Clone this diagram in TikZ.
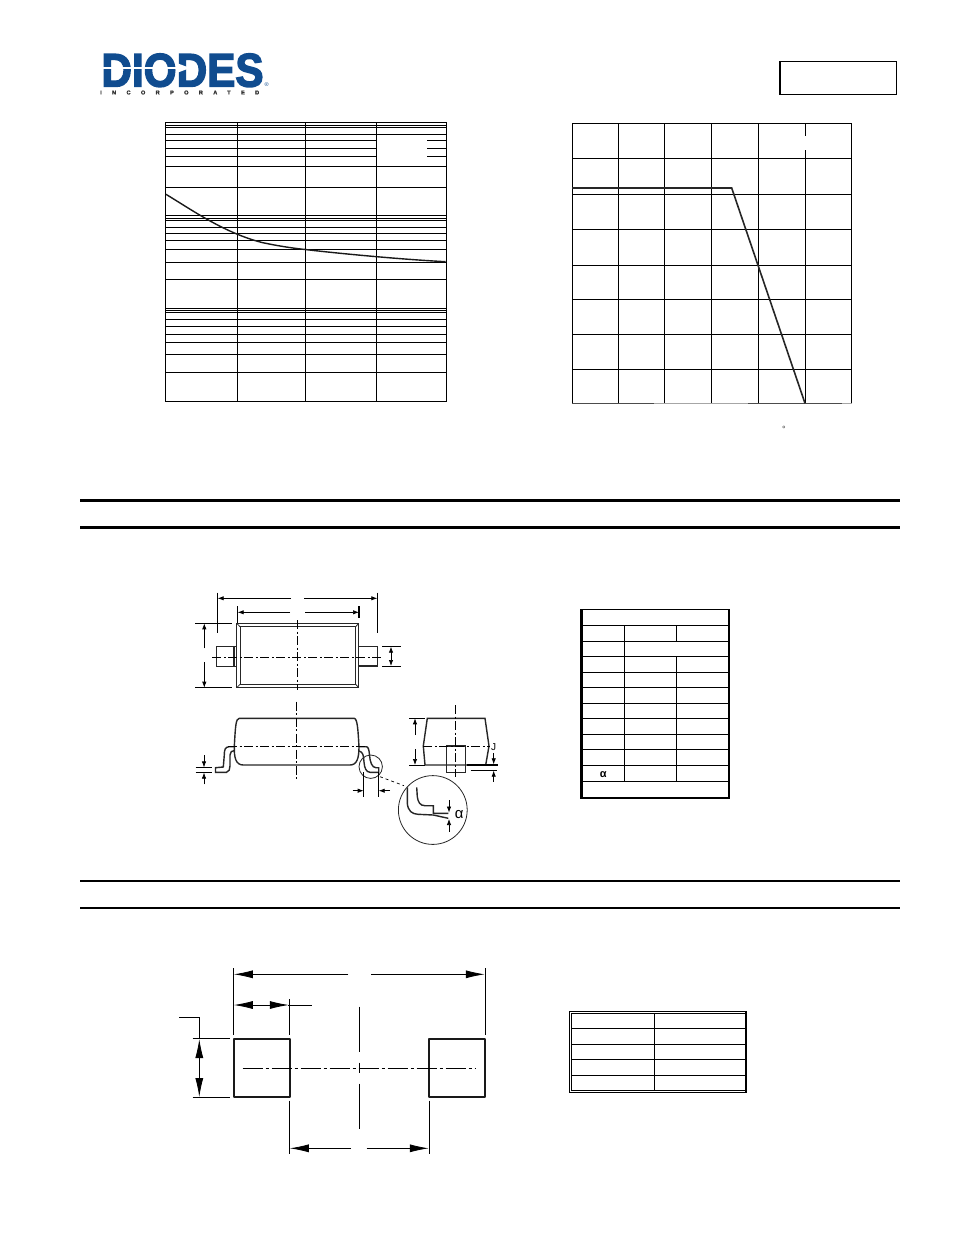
\documentclass[tikz,border=0pt]{standalone}
\usepackage{fontspec}
\setmainfont{Liberation Sans}
\newfontfamily\logofont{Liberation Sans}[BoldFeatures={FakeBold=3.2}]
\newfontfamily\logosmall{Liberation Sans}[LetterSpace=185, BoldFeatures={FakeBold=2}]
\usetikzlibrary{arrows.meta}
\definecolor{logoblue}{RGB}{16,76,143}
\tikzset{
  gridline/.style={line width=1pt, black},
  pkgline/.style={line width=1.4pt, black!85},
  thinpkg/.style={line width=0.8pt, black!85},
  dimline/.style={line width=0.7pt, black, arrows={-Latex[length=6pt,width=4.4pt]}},
  extline/.style={line width=0.7pt, black},
  centreline/.style={line width=0.7pt, black, dash pattern=on 9pt off 2.5pt on 2pt off 2.5pt},
  landdim/.style={line width=0.8pt, black, arrows={-Latex[length=19pt,width=8pt]}},
  landpad/.style={line width=1.8pt, black!90, line join=round},
}
\begin{document}
\begin{tikzpicture}[x=1pt, y=-1pt]
  \useasboundingbox (0, 0) rectangle (954, 1235);

  \node[logoblue, inner sep=0, xscale=0.9, font=\logofont\bfseries\fontsize{47}{47}\selectfont] (logotext) at (182.5, 70.3) {DIODES};
  \draw[white, line width=1.8pt] (100, 68) -- (178, 68);
  \fill[white] (178, 63.5) -- (190, 68) -- (178, 72.5) -- cycle;
  \node[anchor=west, inner sep=0, black!80, font=\logosmall\bfseries\fontsize{5.6}{6}\selectfont] (logosub) at (100, 92.5) {INCORPORATED};
  \node[logoblue, inner sep=0, font=\fontsize{5.5}{6}\selectfont] (logoreg) at (266.7, 84.5) {®};

  \draw[line width=1.7pt] (779.8, 61.5) rectangle (896.5, 94.5);

  % curve plot
  \draw[gridline] (165.5, 122.7) rectangle (446, 401.3);
  \foreach \x in {237.3, 305.3, 376.3}
    \draw[gridline] (\x, 122.7) -- (\x, 401.3);
  \foreach \y in {125.7, 127.7, 134.3, 166.3, 187, 215.3, 218, 220.3, 227, 233.3, 240.3, 249.3, 262.3, 279.3, 308.3, 310.3, 312.3, 319.3, 326.7, 334.3, 342.3, 354.3, 372.3}
    \draw[gridline] (165.5, \y) -- (446, \y);
  \foreach \y in {140.3, 148.3, 156.3} {
    \draw[gridline] (165.5, \y) -- (376.3, \y);
    \draw[gridline] (427, \y) -- (446, \y);
  }
  \draw[line width=1.4pt, black!90] (166, 194.3) .. controls (195, 212) and (225, 233) .. (262, 242.5) .. controls (278, 246) and (295, 248.5) .. (305.3, 249.5) .. controls (330, 252.5) and (395, 259) .. (445.7, 261.7);

  % derating plot
  \foreach \x in {572, 618.3, 664.3, 711.3, 758.3, 851.7}
    \draw[gridline] (\x, 123.3) -- (\x, 403.3);
  \draw[gridline] (805.3, 123.3) -- (805.3, 136);
  \draw[gridline] (805.3, 150) -- (805.3, 403.3);
  \foreach \y in {123.3, 158.3, 194.3, 229.3, 265.3, 299.3, 334.3, 369.3}
    \draw[gridline] (572, \y) -- (851.7, \y);
  \draw[line width=1.1pt, black!70] (572, 403.3) -- (654, 403.3);
  \draw[line width=1.1pt, black!35] (654, 403.3) -- (748, 403.3);
  \draw[line width=1.1pt, black!70] (748, 403.3) -- (841.7, 403.3);
  \draw[line width=1.1pt, black!35] (841.7, 403.3) -- (851.7, 403.3);
  \draw[line width=1.6pt, black!85] (572, 188) -- (731.7, 188) -- (805, 403.3);
  \node[inner sep=0, black!75, font=\fontsize{9}{9}\selectfont] (degmark) at (784, 429) {°};

  % section rules
  \foreach \y in {500.3, 527.3}
    \draw[line width=3pt] (80, \y) -- (900, \y);
  \foreach \y in {881, 908}
    \draw[line width=2pt] (80, \y) -- (900, \y);

  % top view
  \draw[pkgline] (236.7, 623.3) rectangle (358.7, 687.7);
  \draw[thinpkg] (240, 626.7) rectangle (355.7, 684.3);
  \draw[thinpkg] (236.7, 623.3) -- (240, 626.7) (358.7, 623.3) -- (355.7, 626.7) (236.7, 687.7) -- (240, 684.3) (358.7, 687.7) -- (355.7, 684.3);
  \draw[pkgline] (236.7, 646.7) -- (216.7, 646.7) -- (216.7, 666.7) -- (236.7, 666.7);
  \draw[line width=2pt, black!85] (234, 646.7) -- (234, 666.7);
  \draw[pkgline] (358.7, 646.7) -- (377.3, 646.7) -- (377.3, 666) -- (358.7, 666);
  \draw[centreline] (212.3, 657.3) -- (381, 657.3);
  \draw[centreline] (297.3, 620) -- (297.3, 690);
  \draw[extline] (217.7, 592.7) -- (217.7, 633.3);
  \draw[extline] (377.3, 592.7) -- (377.3, 633.3);
  \draw[dimline] (291, 598.3) -- (217.7, 598.3);
  \draw[dimline] (304, 598.3) -- (377.3, 598.3);
  \draw[extline] (237.7, 606) -- (237.7, 622.7);
  \draw[line width=1.2pt] (359, 606) -- (359, 618);
  \draw[dimline] (290, 612.3) -- (237.7, 612.3);
  \draw[dimline] (305, 612.3) -- (359, 612.3);
  \draw[extline] (195, 623.3) -- (231.7, 623.3);
  \draw[extline] (195, 687.7) -- (231.7, 687.7);
  \draw[dimline] (204.3, 648.3) -- (204.3, 623.3);
  \draw[dimline] (204.3, 662.3) -- (204.3, 687.7);
  \draw[extline] (382.3, 646.7) -- (401, 646.7);
  \draw[extline] (382.3, 666) -- (401, 666);
  \draw[dimline] (391, 656.5) -- (391, 646.7);
  \draw[dimline] (391, 656.5) -- (391, 666);

  % side view
  \draw[pkgline] (239.3, 718.3) .. controls (236, 719) and (235.5, 724) .. (234.3, 746.7) .. controls (234, 758) and (236, 765) .. (243.3, 765) -- (350, 765) .. controls (357, 765) and (359, 758) .. (359, 746.7) .. controls (358, 730) and (357.5, 719) .. (354.3, 718.3) -- cycle;
  \draw[line width=1.5pt, black!85] (239.3, 718.3) -- (354.3, 718.3);
  \draw[pkgline] (234.3, 746.7) -- (229, 746.7) .. controls (225, 747) and (224.3, 750) .. (224.3, 755) -- (223.3, 767) -- (215.5, 767.7) -- (215.5, 772.3) -- (226.5, 772.3) .. controls (229, 772) and (230, 769) .. (230, 766) -- (230, 755) .. controls (230, 752) and (232, 750.5) .. (234.5, 750.5);
  \draw[pkgline] (359, 746.7) -- (366.5, 746.7) .. controls (368.5, 747) and (369, 750) .. (369.5, 755) .. controls (370, 762) and (372, 767.7) .. (376, 767.7) -- (378.7, 767.7) -- (378.7, 772.3) -- (370, 772.3) .. controls (366, 772) and (364.5, 768) .. (364, 762) .. controls (363.5, 755) and (363, 752) .. (359, 751);
  \draw[centreline] (228, 746) -- (366.5, 746);
  \draw[centreline] (296.7, 701.7) -- (296.7, 781);
  \draw[line width=1.4pt] (195.7, 767.7) -- (212.3, 767.7);
  \draw[line width=1.4pt] (195.7, 772.3) -- (212.3, 772.3);
  \draw[dimline] (204, 755) -- (204, 767.4);
  \draw[dimline] (204, 784.3) -- (204, 772.6);
  \draw[thinpkg] (370.7, 766.7) circle[radius=11.7];
  \draw[extline] (363.7, 772.3) -- (363.7, 796.7);
  \draw[extline] (378.7, 772.3) -- (378.7, 796.7);
  \draw[dimline] (352.7, 790.7) -- (363.7, 790.7);
  \draw[dimline] (390, 790.7) -- (378.7, 790.7);
  \draw[extline, dashed] (380, 776.7) -- (404, 785.7);

  % detail circle
  \draw[thinpkg] (432.8, 810) circle[radius=34.4];
  \draw[pkgline] (407.3, 787.3) -- (407.3, 803.3) .. controls (408, 811) and (412, 814) .. (418, 814.3) -- (433.3, 815) -- (448.3, 818.3);
  \draw[pkgline] (416.7, 787.3) -- (417.3, 796.7) .. controls (418, 802) and (420, 805.7) .. (425, 805.7) -- (433.3, 805.7) -- (433.3, 813.3) -- (448.3, 813.3);
  \draw[dimline] (449, 800) -- (449, 812.6);
  \draw[dimline] (449, 831.7) -- (449, 819);
  \node[inner sep=0, font=\fontsize{15}{15}\selectfont] (alphadetail) at (459.3, 815) {α};

  % end view
  \draw[pkgline] (427.3, 718.3) -- (485, 718.3) -- (489, 746) -- (485.7, 765) -- (425, 765) -- (423.3, 746) -- cycle;
  \draw[pkgline] (446.7, 746) rectangle (465.7, 772.7);
  \draw[centreline] (455.3, 705) -- (455.3, 776.7);
  \draw[centreline] (423.3, 746) -- (490, 746);
  \draw[extline] (409, 718.3) -- (425, 718.3);
  \draw[extline] (409, 765) -- (425, 765);
  \draw[dimline] (415, 735) -- (415, 718.3);
  \draw[dimline] (415, 749) -- (415, 765);
  \draw[line width=1.3pt] (466.7, 765) -- (498.3, 765);
  \draw[extline] (470.7, 770) -- (497.3, 770);
  \draw[dimline] (493.7, 753.3) -- (493.7, 764.3);
  \draw[dimline] (493.7, 781.7) -- (493.7, 770.7);
  \node[inner sep=0, font=\fontsize{10}{10}\selectfont] (jlabel) at (493.5, 747.5) {J};

  % dimensions table
  \draw[line width=1.7pt] (581, 609.5) rectangle (729, 798);
  \draw[gridline] (582.8, 609.5) -- (582.8, 798);
  \foreach \y in {625, 641, 656.7, 672.3, 687.7, 703.3, 718.3, 734.3, 749.7, 765.7, 781.7}
    \draw[gridline] (582.3, \y) -- (729, \y);
  \draw[line width=1.5pt] (624.7, 625) -- (624.7, 781.7);
  \draw[gridline] (676.7, 625) -- (676.7, 641);
  \draw[gridline] (676.7, 656.7) -- (676.7, 781.7);
  \node[inner sep=0, font=\bfseries\fontsize{11}{11}\selectfont] (alphacell) at (603.3, 775) {α};

  % land pattern
  \draw[landpad] (234, 1039) rectangle (289.7, 1097.3);
  \draw[landpad] (429, 1039) rectangle (485, 1097.3);
  \draw[extline] (233.3, 968) -- (233.3, 1035);
  \draw[extline] (485.3, 968) -- (485.3, 1035);
  \draw[landdim] (348.3, 974.3) -- (233.8, 974.3);
  \draw[landdim] (371, 974.3) -- (484.8, 974.3);
  \draw[extline] (289.3, 999.3) -- (289.3, 1035);
  \draw[landdim] (262, 1005) -- (233.8, 1005);
  \draw[landdim] (262, 1005) -- (288.8, 1005);
  \draw[extline] (288, 1005) -- (311.7, 1005);
  \draw[centreline, dash pattern=on 45pt off 11pt on 10pt off 11pt] (359.3, 1006.7) -- (359.3, 1130.7);
  \draw[centreline, dash pattern=on 20pt off 3pt on 3pt off 3pt] (242.7, 1068.3) -- (476, 1068.3);
  \draw[extline] (192.7, 1038.7) -- (230, 1038.7);
  \draw[extline] (192.7, 1097.3) -- (230, 1097.3);
  \draw[extline] (179.3, 1017.3) -- (199.3, 1017.3) -- (199.3, 1039);
  \draw[landdim] (199.3, 1068) -- (199.3, 1039);
  \draw[landdim] (199.3, 1068) -- (199.3, 1097);
  \draw[extline] (289.3, 1100.7) -- (289.3, 1154.3);
  \draw[extline] (429.3, 1100.7) -- (429.3, 1154.3);
  \draw[landdim] (351, 1148.3) -- (289.8, 1148.3);
  \draw[landdim] (366.7, 1148.3) -- (428.8, 1148.3);

  % land pattern table
  \draw[gridline] (569.5, 1011.2) rectangle (746.5, 1092.2);
  \draw[gridline] (571.7, 1013.3) rectangle (745, 1090);
  \draw[line width=1pt] (745.8, 1011.2) -- (745.8, 1092.2);
  \draw[gridline] (654.3, 1013.3) -- (654.3, 1090);
  \foreach \y in {1028.3, 1044.3, 1059.3, 1075.7}
    \draw[gridline] (571.7, \y) -- (745, \y);
\end{tikzpicture}
\end{document}
